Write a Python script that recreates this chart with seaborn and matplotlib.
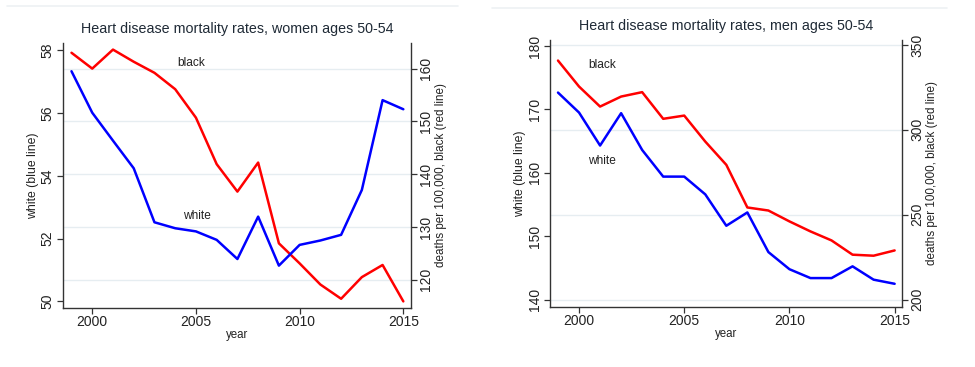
import matplotlib
matplotlib.use("Agg")
import matplotlib.pyplot as plt
import seaborn as sns
import pandas as pd
from matplotlib.lines import Line2D

sns.set_theme(style="white")
plt.rcParams['font.family'] = ['Liberation Sans', 'DejaVu Sans']

years = list(range(1999, 2016))

women_white = [57.33, 56.01, 55.12, 54.24, 52.52, 52.33, 52.23, 51.96, 51.35,
               52.70, 51.14, 51.80, 51.94, 52.12, 53.55, 56.41, 56.12]
women_black = [163.0, 160.0, 163.6, 161.3, 159.2, 156.1, 150.7, 141.9, 136.7,
               142.2, 126.9, 123.1, 119.1, 116.4, 120.5, 122.8, 115.9]

men_white = [172.65, 169.5, 164.3, 169.4, 163.6, 159.4, 159.4, 156.6, 151.65,
             153.75, 147.5, 144.8, 143.4, 143.4, 145.25, 143.15, 142.5]
men_black = [340.8, 325.5, 313.7, 319.6, 322.2, 306.5, 308.4, 293.1, 279.4,
             254.3, 252.5, 246.1, 240.2, 234.9, 226.5, 225.9, 229.0]

titles = ["Heart disease mortality rates, women ages 50-54",
          "Heart disease mortality rates, men ages 50-54"]
x_ticks = [2000, 2005, 2010, 2015]
left_ticks = [[50, 52, 54, 56, 58], [140, 150, 160, 170, 180]]
right_ticks = [[120, 130, 140, 150, 160], [200, 250, 300, 350]]
left_lims = [(49.79, 58.23), (138.84, 180.94)]
right_lims = [(114.65, 164.85), (195.7, 352.9)]
xlims = [(1998.59, 2015.37), (1998.62, 2015.35)]
label_pos = [((2004.1, 57.58), (2004.37, 52.72)), ((2000.43, 177.0), (2000.43, 161.9))]

W, H = 975, 367
fig = plt.figure(figsize=(W / 100, H / 100), dpi=100)
fig.patch.set_facecolor('white')

boxes = [(63, 43, 411, 308), (550, 40, 902, 307)]
data = [(women_white, women_black), (men_white, men_black)]
TXT = '#222222'
SP = '#333333'

for i in range(2):
    x0, y0, x1, y1 = boxes[i]
    ax = fig.add_axes([x0 / W, 1 - y1 / H, (x1 - x0) / W, (y1 - y0) / H])
    tw = ax.twinx()
    white, black = data[i]
    df = pd.DataFrame({'year': years, 'white': white, 'black': black})

    sns.lineplot(data=df, x='year', y='black', ax=tw, color='#ff0000', lw=1.8)
    sns.lineplot(data=df, x='year', y='white', ax=ax, color='#0000ff', lw=1.8)

    ax.set_zorder(tw.get_zorder() + 1)
    ax.patch.set_visible(False)
    tw.patch.set_facecolor('white')

    ax.set_xlim(*xlims[i])
    ax.set_ylim(*left_lims[i])
    tw.set_ylim(*right_lims[i])
    ax.set_xticks(x_ticks)
    ax.set_yticks(left_ticks[i])
    tw.set_yticks(right_ticks[i])
    tw.yaxis.grid(True, color='#e6edf1', lw=1.0)
    ax.grid(False)

    for a in (ax, tw):
        for s in a.spines.values():
            s.set_color(SP)
            s.set_linewidth(1.0)
        a.spines['top'].set_visible(False)
        a.tick_params(axis='both', direction='out', length=4, width=0.9,
                      color=SP, labelsize=10, labelcolor=TXT, pad=2)
    ax.spines['right'].set_visible(False)
    tw.spines['left'].set_visible(False)
    tw.spines['bottom'].set_visible(False)
    ax.tick_params(axis='y', left=True)
    ax.tick_params(axis='x', bottom=True, pad=1)
    tw.tick_params(axis='y', right=True)
    for lab in ax.get_yticklabels():
        lab.set_rotation(90)
        lab.set_va('center')
    for lab in tw.get_yticklabels():
        lab.set_rotation(90)
        lab.set_va('center')

    ax.set_xlabel('year', fontsize=8.3, color=TXT, labelpad=0)
    ax.set_ylabel('white (blue line)', fontsize=8.8, color=TXT, labelpad=1)
    tw.set_ylabel('deaths per 100,000, black (red line)', fontsize=8.4, color=TXT,
                  labelpad=1)
    ax.set_title(titles[i], fontsize=10.3, color='#1f2a36', pad=7)

    (bx, by), (wx, wy) = label_pos[i]
    ax.text(bx, by, 'black', fontsize=8.6, color=TXT, ha='left', va='center')
    ax.text(wx, wy, 'white', fontsize=8.6, color=TXT, ha='left', va='center')

# faint separator lines at the top
fig.add_artist(Line2D([7 / W, 458 / W], [1 - 6 / H, 1 - 6 / H], color='#eef1f3', lw=1.2))
fig.add_artist(Line2D([492 / W, 947 / W], [1 - 8 / H, 1 - 8 / H], color='#eef1f3', lw=1.2))

fig.savefig('out.png', dpi=100, facecolor='white')
